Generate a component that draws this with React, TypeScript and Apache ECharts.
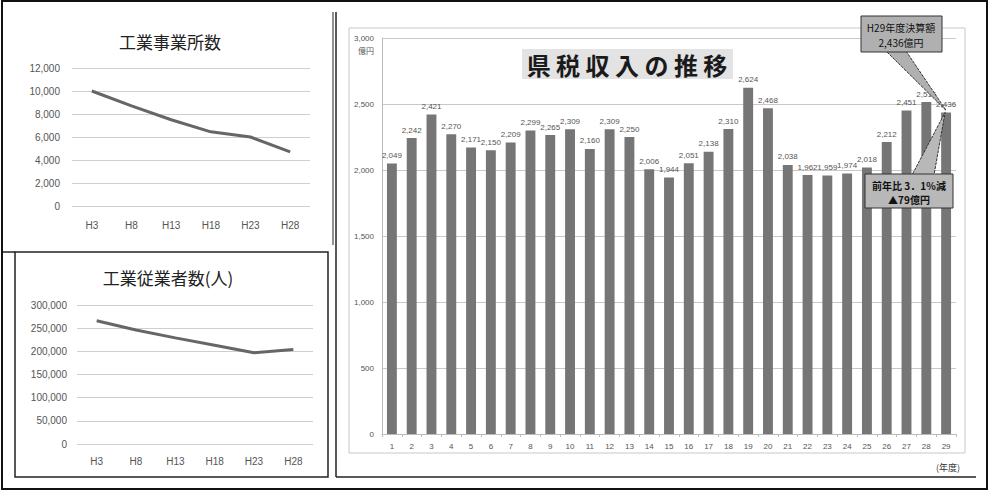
import React, { useEffect, useRef } from "react";
import * as echarts from "echarts";

const surveyYears = ["H3", "H8", "H13", "H18", "H23", "H28"];
const establishments = [10000, 8700, 7500, 6450, 6000, 4700];
const employees = [266000, 246000, 229000, 213000, 197000, 204000];

const fiscalYears = [
  "1", "2", "3", "4", "5", "6", "7", "8", "9", "10", "11", "12", "13", "14", "15",
  "16", "17", "18", "19", "20", "21", "22", "23", "24", "25", "26", "27", "28", "29",
];
const revenue = [
  2049, 2242, 2421, 2270, 2171, 2150, 2209, 2299, 2265, 2309, 2160, 2309, 2250, 2006, 1944,
  2051, 2138, 2310, 2624, 2468, 2038, 1962, 1959, 1974, 2018, 2212, 2451, 2515, 2436,
];

const NUM_FONT = "'Liberation Sans', Arial, sans-serif";
const JP_FONT = "'Noto Sans CJK JP', sans-serif";

const comma = (v: number) => String(v).replace(/\B(?=(\d{3})+(?!\d))/g, ",");

export default function App() {
  const ref = useRef<HTMLDivElement>(null);

  useEffect(() => {
    if (!ref.current) return;
    const chart = echarts.init(ref.current, null, { renderer: "svg" });

    const smallAxisLabel = { color: "#555", fontSize: 10, fontFamily: NUM_FONT };
    const gridLine = { show: true, lineStyle: { color: "#cfcfcf", width: 1 } };

    const option: any = {
      animation: false,
      backgroundColor: "#fff",
      grid: [
        { left: 72, top: 68, width: 238, height: 138 },
        { left: 77, top: 305, width: 236, height: 139 },
        { left: 382, top: 38, width: 574, height: 396 },
      ],
      xAxis: [
        {
          type: "category", gridIndex: 0, data: surveyYears, boundaryGap: true,
          axisLine: { show: false }, axisTick: { show: false },
          axisLabel: { ...smallAxisLabel, margin: 14 },
        },
        {
          type: "category", gridIndex: 1, data: surveyYears, boundaryGap: true,
          axisLine: { show: false }, axisTick: { show: false },
          axisLabel: { ...smallAxisLabel, margin: 12 },
        },
        {
          type: "category", gridIndex: 2, data: fiscalYears, boundaryGap: true,
          axisLine: { show: true, lineStyle: { color: "#bbb" } },
          axisTick: { show: true, lineStyle: { color: "#bbb" }, length: 3 },
          axisLabel: { color: "#555", fontSize: 8, fontFamily: NUM_FONT, margin: 8 },
        },
      ],
      yAxis: [
        {
          type: "value", gridIndex: 0, min: 0, max: 12000, interval: 2000,
          axisLine: { show: false }, axisTick: { show: false },
          axisLabel: { ...smallAxisLabel, margin: 12, formatter: (v: number) => comma(v) },
          splitLine: gridLine,
        },
        {
          type: "value", gridIndex: 1, min: 0, max: 300000, interval: 50000,
          axisLine: { show: false }, axisTick: { show: false },
          axisLabel: { ...smallAxisLabel, margin: 10, formatter: (v: number) => comma(v) },
          splitLine: gridLine,
        },
        {
          type: "value", gridIndex: 2, min: 0, max: 3000, interval: 500,
          axisLine: { show: true, lineStyle: { color: "#bbb" } },
          axisTick: { show: false },
          axisLabel: { color: "#555", fontSize: 8, fontFamily: NUM_FONT, margin: 8, formatter: (v: number) => comma(v) },
          splitLine: { show: true, lineStyle: { color: "#c8c8c8", width: 1 } },
        },
      ],
      series: [
        {
          type: "line", xAxisIndex: 0, yAxisIndex: 0, data: establishments,
          showSymbol: false, lineStyle: { color: "#666", width: 3 },
        },
        {
          type: "line", xAxisIndex: 1, yAxisIndex: 1, data: employees,
          showSymbol: false, lineStyle: { color: "#666", width: 3 },
        },
        {
          type: "bar", xAxisIndex: 2, yAxisIndex: 2, data: revenue, barWidth: "50%",
          itemStyle: { color: "#767676" },
          label: {
            show: true, position: "top", distance: 4, color: "#555", fontSize: 8,
            fontFamily: NUM_FONT, formatter: (p: any) => comma(p.value),
          },
        },
      ],
    };
    chart.setOption(option);

    const tip = chart.convertToPixel({ seriesIndex: 2 }, [28, revenue[28]]) as number[];
    const tx = tip[0];
    const ty = tip[1] - 2;

    const graphic: any[] = [
      // frames
      { type: "rect", shape: { x: 2, y: 1, width: 985, height: 488 }, style: { fill: "none", stroke: "#111", lineWidth: 2 } },
      { type: "line", shape: { x1: 333, y1: 12, x2: 333, y2: 245 }, style: { stroke: "#222", lineWidth: 1 } },
      { type: "rect", shape: { x: 15, y: 252, width: 313, height: 225 }, style: { fill: "none", stroke: "#222", lineWidth: 1.5 } },
      { type: "line", shape: { x1: 3, y1: 252, x2: 15, y2: 252 }, style: { stroke: "#222", lineWidth: 1.5 } },
      { type: "line", shape: { x1: 336, y1: 12, x2: 336, y2: 477 }, style: { stroke: "#222", lineWidth: 1.5 } },
      { type: "line", shape: { x1: 336, y1: 477, x2: 976, y2: 477 }, style: { stroke: "#222", lineWidth: 1.5 } },
      { type: "rect", shape: { x: 349, y: 28, width: 616, height: 425 }, style: { fill: "none", stroke: "#c8c8c8", lineWidth: 1 } },
      // left titles
      { type: "text", x: 170, y: 41, style: { text: "工業事業所数", font: `17px ${JP_FONT}`, fill: "#222", align: "center", verticalAlign: "middle" } },
      { type: "text", x: 168, y: 277, style: { text: "工業従業者数(人)", font: `17px ${JP_FONT}`, fill: "#222", align: "center", verticalAlign: "middle" } },
      // bar chart title
      { type: "rect", z: 100, shape: { x: 522, y: 49, width: 211, height: 30 }, style: { fill: "#e3e3e3" } },
      { type: "text", z: 101, x: 627, y: 64, style: { text: "県 税 収 入 の 推 移", font: `bold 24px ${JP_FONT}`, fill: "#1a1a1a", align: "center", verticalAlign: "middle" } },
      // unit labels
      { type: "text", x: 366, y: 50, style: { text: "億円", font: `8px ${JP_FONT}`, fill: "#555", align: "center", verticalAlign: "middle" } },
      { type: "text", x: 948, y: 467, style: { text: "(年度)", font: `9px ${JP_FONT}`, fill: "#333", align: "center", verticalAlign: "middle" } },
      // top callout
      { type: "polygon", z: 100, shape: { points: [[886, 51], [906, 51], [tx, ty]] }, style: { fill: "#b0b0b0", stroke: "#333", lineWidth: 1, lineDash: [3, 1] } },
      { type: "rect", z: 101, shape: { x: 861, y: 16, width: 81, height: 36 }, style: { fill: "#b0b0b0", stroke: "#333", lineWidth: 1 } },
      { type: "text", z: 102, x: 901, y: 27, style: { text: "H29年度決算額", font: `10px ${JP_FONT}`, fill: "#111", align: "center", verticalAlign: "middle" } },
      { type: "text", z: 102, x: 901, y: 42, style: { text: "2,436億円", font: `10px ${JP_FONT}`, fill: "#111", align: "center", verticalAlign: "middle" } },
      // bottom callout
      { type: "polygon", z: 100, shape: { points: [[912, 175], [934, 175], [tx - 1, ty + 2]] }, style: { fill: "#b8b8b8", stroke: "#333", lineWidth: 1, lineDash: [3, 1] } },
      { type: "rect", z: 101, shape: { x: 865, y: 174, width: 88, height: 34 }, style: { fill: "#b8b8b8", stroke: "#333", lineWidth: 1 } },
      { type: "text", z: 102, x: 909, y: 185, style: { text: "前年比 3．1％減", font: `bold 10px ${JP_FONT}`, fill: "#111", align: "center", verticalAlign: "middle" } },
      { type: "text", z: 102, x: 909, y: 199, style: { text: "▲79億円", font: `bold 10px ${JP_FONT}`, fill: "#111", align: "center", verticalAlign: "middle" } },
    ];
    chart.setOption({ graphic });

    return () => chart.dispose();
  }, []);

  return (
    <div
      ref={ref}
      style={{ position: "fixed", left: 0, top: 0, width: 990, height: 493, background: "#fff" }}
    />
  );
}
